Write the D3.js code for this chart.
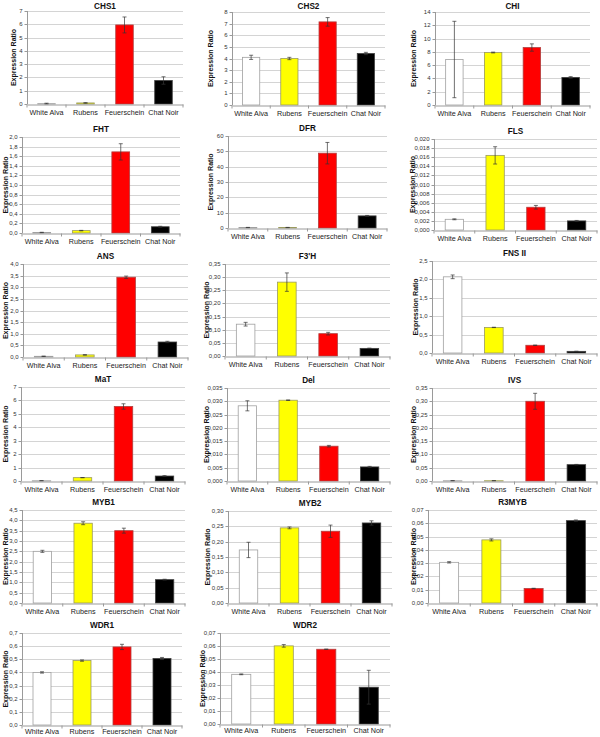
<!DOCTYPE html>
<html><head><meta charset="utf-8">
<script src="https://cdn.jsdelivr.net/npm/d3@7"></script>
<style>
body{margin:0;background:#fff}
svg{display:block}
text{font-family:"Liberation Sans",Arial,Helvetica,sans-serif}
</style>
</head><body>
<svg id="c" width="600" height="737"></svg>
<script>
const categories = ["White Alva","Rubens","Feuerschein","Chat Noir"];
const genes = ["CHS1","CHS2","CHI","FHT","DFR","FLS","ANS","F3'H","FNS II","MaT","Del","IVS","MYB1","MYB2","R3MYB","WDR1","WDR2"];
const means = [
  [0.03,0.08,5.95,1.77],
  [4.1,4.0,7.15,4.43],
  [6.85,7.9,8.65,4.15],
  [0.01,0.05,1.69,0.13],
  [0.3,0.3,48.8,7.9],
  [0.00235,0.0164,0.0050,0.0020],
  [0.03,0.09,3.43,0.645],
  [0.121,0.281,0.085,0.029],
  [2.07,0.695,0.21,0.045],
  [0.02,0.25,5.55,0.37],
  [0.0283,0.0304,0.0131,0.0053],
  [0.001,0.001,0.30,0.0615],
  [2.5,3.86,3.5,1.13],
  [0.173,0.245,0.234,0.261],
  [0.0306,0.0475,0.0109,0.0620],
  [0.40,0.49,0.594,0.506],
  [0.0382,0.0601,0.0575,0.0283]
];
const errors = [
  [0.03,0.02,0.6,0.28],
  [0.18,0.1,0.37,0.1],
  [5.75,0.06,0.55,0.12],
  [0.005,0.005,0.17,0.01],
  [0.1,0.1,7,0.3],
  [0.0001,0.0019,0.0004,0.0001],
  [0.01,0.01,0.05,0.03],
  [0.007,0.035,0.005,0.001],
  [0.05,0.005,0.005,0.002],
  [0.005,0.01,0.2,0.03],
  [0.0019,0.0001,0.0003,0.0002],
  [0.0003,0.0003,0.03,0.001],
  [0.05,0.07,0.12,0.02],
  [0.025,0.003,0.02,0.007],
  [0.0005,0.0008,0.0002,0.0005],
  [0.005,0.005,0.02,0.008],
  [0.0003,0.001,0.0001,0.013]
];
const axisMax = [7,8,14,2.0,60,0.020,4.0,0.35,2.5,7,0.035,0.35,4.5,0.30,0.07,0.7,0.07];
const axisStep = [1,1,2,0.2,10,0.002,0.5,0.05,0.5,1,0.005,0.05,0.5,0.05,0.01,0.1,0.01];
const tickDecimals = [0,0,0,1,0,3,1,2,1,0,3,2,1,2,2,1,2];

const barFill = ["#ffffff","#ffff00","#ff0000","#000000"];
const barStroke = ["#a0a0a0","#9a9a60","#b04040","#404040"];
// [left, right, top, bottom, yTitleX, labelPadding]
const layout = [
  [27,183,11,104,13,5],[232,385,12,105,210,5],[435,590,12,105,413,5],
  [22,180,137,233,5,5],[228,387,136,228,210,5],[434,597,139,230,412,5],
  [23,188,264,357,5,5],[225,390,264,356,206,5],[432,597,261,353,415,5],
  [21,185,387,481,5,5],[227,390,388,481,206,5],[432,597,388,481,413,5],
  [22,185,510,603,5,5],[228,392,511,603,207,5],[428,597,510,603,413,5],
  [22,182,633,725,5,3],[220,390,633,724,202,3.5]
];

const svg = d3.select("#c");

genes.forEach((g, i) => {
  const [l, r, t, b, yt, lp] = layout[i];
  const gEl = svg.append("g");
  const x = d3.scaleBand().domain(categories).range([l, r]).paddingInner(0.55).paddingOuter(0.275);
  const y = d3.scaleLinear().domain([0, axisMax[i]]).range([b, t]);
  const ticks = d3.range(0, axisMax[i] + axisStep[i] / 2, axisStep[i]);
  const fmt = d => d.toFixed(tickDecimals[i]).replace(".", ",");

  // gridlines
  gEl.append("g").selectAll("line").data(ticks.filter(d => d > 0)).join("line")
    .attr("x1", l).attr("x2", r)
    .attr("y1", d => Math.round(y(d)) + 0.5).attr("y2", d => Math.round(y(d)) + 0.5)
    .attr("stroke", "#d4d4d4").attr("stroke-width", 1);

  // y axis
  const ya = gEl.append("g").attr("transform", `translate(${l + 0.5},0)`)
    .call(d3.axisLeft(y).tickValues(ticks).tickFormat(fmt).tickSize(3).tickPadding(2));
  ya.select(".domain").attr("stroke", "#9a9a9a").attr("d", `M0,${t}V${b}`);
  ya.selectAll(".tick line").attr("stroke", "#9a9a9a");
  ya.selectAll(".tick text").attr("font-size", 6).attr("fill", "#333");
  ya.selectAll(".tick").attr("transform", d => `translate(0,${Math.round(y(d)) + 0.5})`);

  // bars
  gEl.append("g").selectAll("rect").data(categories).join("rect")
    .attr("x", c => x(c)).attr("width", x.bandwidth())
    .attr("y", (c, k) => y(means[i][k]))
    .attr("height", (c, k) => b - y(means[i][k]))
    .attr("fill", (c, k) => barFill[k])
    .attr("stroke", (c, k) => barStroke[k]).attr("stroke-width", 0.8);

  // error bars
  const eb = gEl.append("g").attr("stroke", "#333").attr("stroke-width", 0.7);
  categories.forEach((c, k) => {
    const cx = x(c) + x.bandwidth() / 2;
    const lo = y(Math.max(0, means[i][k] - errors[i][k]));
    const hi = y(means[i][k] + errors[i][k]);
    eb.append("line").attr("x1", cx).attr("x2", cx).attr("y1", lo).attr("y2", hi);
    eb.append("line").attr("x1", cx - 2).attr("x2", cx + 2).attr("y1", lo).attr("y2", lo);
    eb.append("line").attr("x1", cx - 2).attr("x2", cx + 2).attr("y1", hi).attr("y2", hi);
  });

  // x axis
  const xa = gEl.append("g").attr("transform", `translate(0,${b + 0.5})`)
    .call(d3.axisBottom(x).tickSize(0).tickPadding(lp));
  xa.select(".domain").attr("stroke", "#9a9a9a");
  xa.selectAll(".tick text").attr("font-size", 7.2).attr("fill", "#222");
  const step = x.step();
  xa.append("g").selectAll("line").data(d3.range(categories.length + 1)).join("line")
    .attr("x1", k => l + k * step).attr("x2", k => l + k * step)
    .attr("y1", 0).attr("y2", 3).attr("stroke", "#9a9a9a");

  // title
  gEl.append("text").attr("x", (l + r) / 2).attr("y", Math.max(t - 5, 8.5))
    .attr("text-anchor", "middle").attr("font-size", 8.2).attr("font-weight", "bold")
    .attr("fill", "#111").text(g);

  // y title
  gEl.append("text").attr("transform", `translate(${yt},${(t + b) / 2}) rotate(-90)`)
    .attr("text-anchor", "middle").attr("dominant-baseline", "central")
    .attr("font-size", 7).attr("font-weight", "bold").attr("fill", "#111")
    .text("Expression Ratio");
});
</script>
</body></html>
